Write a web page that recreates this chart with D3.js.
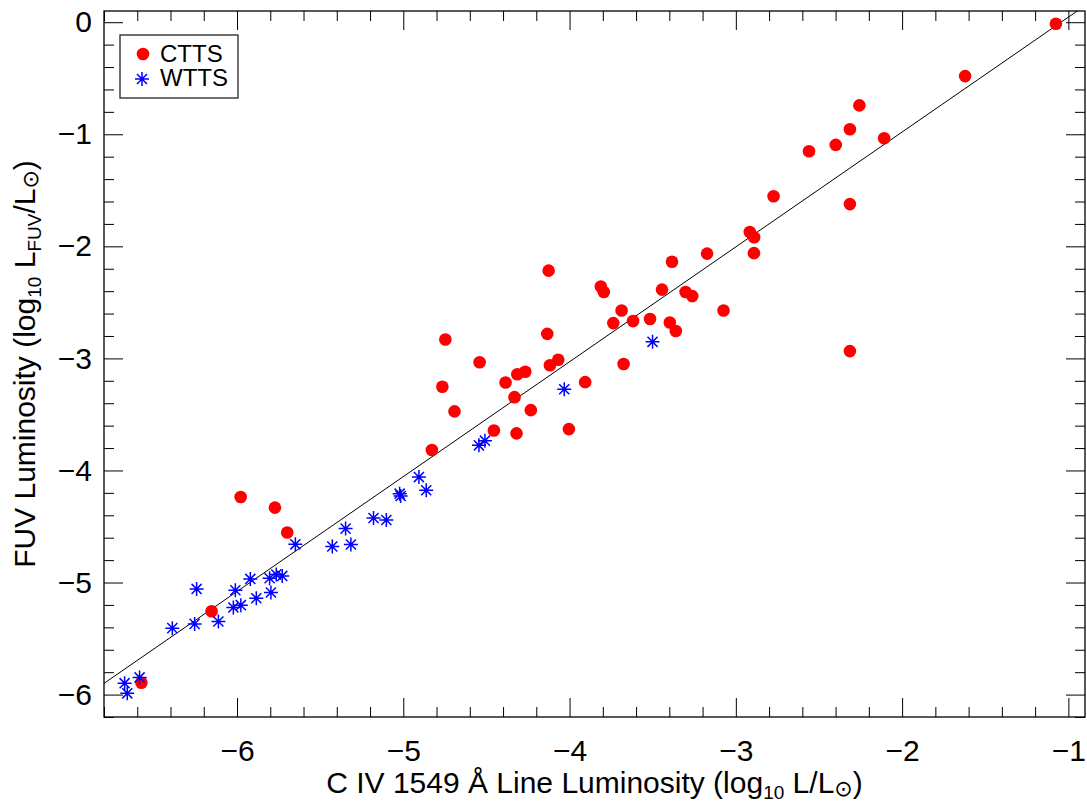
<!DOCTYPE html>
<meta charset="utf-8">
<script src="https://d3js.org/d3.v7.min.js"></script>
<html>
<body style="margin:0; background:#fff;">
<div id="chart"></div>
<script>
// CTTS (classical T Tauri) points
var cttsX = [-6.575, -6.153, -5.978, -5.772, -5.698, -4.828, -4.692, -4.765, -4.747, -4.541,
             -4.455, -4.385, -4.331, -4.314, -4.266, -4.319, -4.233, -4.126, -4.134, -4.118,
             -4.068, -4.004, -3.906, -3.812, -3.794, -3.687, -3.737, -3.618, -3.675, -3.516,
             -3.444, -3.397, -3.361, -3.384, -3.302, -3.262, -3.173, -3.074, -2.916, -2.890,
             -2.891, -2.773, -2.560, -2.399, -2.314, -2.257, -2.314, -2.314, -2.108, -1.621,
             -1.075];
var cttsY = [-5.895, -5.256, -4.237, -4.332, -4.554, -3.818, -3.473, -3.253, -2.832, -3.034,
             -3.643, -3.215, -3.346, -3.141, -3.119, -3.669, -3.462, -2.217, -2.781, -3.061,
             -3.012, -3.631, -3.212, -2.359, -2.408, -2.573, -2.685, -2.667, -3.050, -2.649,
             -2.386, -2.680, -2.756, -2.138, -2.408, -2.444, -2.065, -2.573, -1.872, -1.919,
             -2.061, -1.553, -1.152, -1.095, -0.955, -0.742, -1.623, -2.935, -1.036, -0.481,
             -0.014];

// WTTS (weak-lined T Tauri) points
var wttsX = [-6.676, -6.660, -6.586, -6.389, -6.255, -6.243, -6.112, -6.022, -6.010, -5.977,
             -5.920, -5.884, -5.796, -5.804, -5.764, -5.728, -5.649, -5.427, -5.347, -5.315,
             -5.179, -5.102, -5.022, -5.016, -4.906, -4.862, -4.545, -4.509, -4.032, -3.501];
var wttsY = [-5.898, -5.989, -5.847, -5.407, -5.369, -5.057, -5.348, -5.223, -5.069, -5.202,
             -4.968, -5.140, -5.089, -4.962, -4.929, -4.941, -4.659, -4.679, -4.519, -4.661,
             -4.424, -4.442, -4.207, -4.228, -4.059, -4.177, -3.776, -3.734, -3.275, -2.852];

// linear fit drawn through both samples
var fitSlope = 1.025, fitIntercept = 1.07;

var xTicks = [-6, -5, -4, -3, -2, -1];
var yTicks = [0, -1, -2, -3, -4, -5, -6];
var seriesNames = ["CTTS", "WTTS"];

var margin = {top: 11, right: 2, bottom: 87, left: 104},
    width = 1087 - margin.left - margin.right,
    height = 804 - margin.top - margin.bottom;

var font = "'Liberation Sans', Arial, Helvetica, sans-serif";

var svg = d3.select("#chart")
  .append("svg")
    .attr("width", 1087)
    .attr("height", 804)
    .style("font-family", font)
  .append("g")
    .attr("transform", "translate(" + margin.left + "," + margin.top + ")");

var x = d3.scaleLinear().domain([-6.8, -0.9]).range([0, width]);
var y = d3.scaleLinear().domain([-6.2, 0.1]).range([height, 0]);

var xMinor = d3.range(-6.8, -0.85, 0.2).map(function(d) { return +d.toFixed(1); })
  .filter(function(d) { return xTicks.indexOf(d) < 0; });
var yMinor = d3.range(-6.2, 0.15, 0.2).map(function(d) { return +d.toFixed(1); })
  .filter(function(d) { return yTicks.indexOf(d) < 0; });

var fmt = d3.format("d");

function styleAxis(g) {
  g.select(".domain").remove();
  g.selectAll("line").attr("stroke", "#000").attr("stroke-width", 1);
  g.selectAll("text").attr("fill", "#000").style("font-size", "30px").style("font-family", font);
}

// bottom axis with labels
svg.append("g")
    .attr("transform", "translate(0," + height + ")")
    .call(d3.axisBottom(x).tickValues(xTicks).tickSize(-19).tickPadding(23).tickFormat(fmt))
    .call(styleAxis);
svg.append("g")
    .attr("transform", "translate(0," + height + ")")
    .call(d3.axisBottom(x).tickValues(xMinor).tickSize(-10).tickFormat(""))
    .call(styleAxis);
// top axis, ticks only
svg.append("g")
    .call(d3.axisTop(x).tickValues(xTicks).tickSize(-19).tickFormat(""))
    .call(styleAxis);
svg.append("g")
    .call(d3.axisTop(x).tickValues(xMinor).tickSize(-10).tickFormat(""))
    .call(styleAxis);
// left axis with labels
svg.append("g")
    .call(d3.axisLeft(y).tickValues(yTicks).tickSize(-19).tickPadding(12).tickFormat(fmt))
    .call(styleAxis);
svg.append("g")
    .call(d3.axisLeft(y).tickValues(yMinor).tickSize(-10).tickFormat(""))
    .call(styleAxis);
// right axis, ticks only
svg.append("g")
    .attr("transform", "translate(" + width + ",0)")
    .call(d3.axisRight(y).tickValues(yTicks).tickSize(-19).tickFormat(""))
    .call(styleAxis);
svg.append("g")
    .attr("transform", "translate(" + width + ",0)")
    .call(d3.axisRight(y).tickValues(yMinor).tickSize(-10).tickFormat(""))
    .call(styleAxis);

// frame
svg.append("rect")
    .attr("width", width)
    .attr("height", height)
    .attr("fill", "none")
    .attr("stroke", "#000")
    .attr("stroke-width", 1.3);

svg.append("clipPath").attr("id", "clip")
  .append("rect").attr("width", width).attr("height", height);

// fit line
var xd = x.domain();
svg.append("line")
    .attr("clip-path", "url(#clip)")
    .attr("x1", x(xd[0])).attr("y1", y(fitSlope * xd[0] + fitIntercept))
    .attr("x2", x(xd[1])).attr("y2", y(fitSlope * xd[1] + fitIntercept))
    .attr("stroke", "#000")
    .attr("stroke-width", 1);

// 8-armed asterisk like IDL psym=2
function starPath(r) {
  var q = r * 0.72;
  return "M" + (-r) + ",0L" + r + ",0M0," + (-r) + "L0," + r +
         "M" + (-q) + "," + (-q) + "L" + q + "," + q +
         "M" + (-q) + "," + q + "L" + q + "," + (-q);
}

var ctts = cttsX.map(function(d, i) { return {x: d, y: cttsY[i]}; });
var wtts = wttsX.map(function(d, i) { return {x: d, y: wttsY[i]}; });

svg.append("g").selectAll("circle")
  .data(ctts)
  .enter().append("circle")
    .attr("cx", function(d) { return x(d.x); })
    .attr("cy", function(d) { return y(d.y); })
    .attr("r", 6.3)
    .attr("fill", "#ff0000");

svg.append("g").selectAll("path")
  .data(wtts)
  .enter().append("path")
    .attr("transform", function(d) { return "translate(" + x(d.x) + "," + y(d.y) + ")"; })
    .attr("d", starPath(7))
    .attr("fill", "none")
    .attr("stroke", "#0000ff")
    .attr("stroke-width", 1.5);

// legend
var legend = svg.append("g").attr("transform", "translate(16,24)");
legend.append("rect")
    .attr("width", 118)
    .attr("height", 63)
    .attr("fill", "#fff")
    .attr("stroke", "#222")
    .attr("stroke-width", 1.3);
legend.append("circle").attr("cx", 23).attr("cy", 19).attr("r", 6.3).attr("fill", "#ff0000");
legend.append("path")
    .attr("transform", "translate(22,44)")
    .attr("d", starPath(7))
    .attr("fill", "none")
    .attr("stroke", "#0000ff")
    .attr("stroke-width", 1.5);
legend.selectAll("text.lab")
  .data(seriesNames)
  .enter().append("text")
    .attr("class", "lab")
    .attr("x", 40)
    .attr("y", function(d, i) { return 26.5 + i * 24.5; })
    .style("font-size", "24px")
    .text(function(d) { return d; });

// axis titles
var xt = svg.append("text")
    .attr("x", width / 2)
    .attr("y", 793 - margin.top)
    .attr("text-anchor", "middle")
    .style("font-size", "30px");
xt.append("tspan").text("C IV 1549 Å Line Luminosity (log");
xt.append("tspan").attr("dy", 6).style("font-size", "19px").text("10");
xt.append("tspan").attr("dy", -6).text(" L/L");
xt.append("tspan").attr("dy", 3).style("font-size", "22px").style("font-family", "'DejaVu Sans'").text("⊙");
xt.append("tspan").attr("dy", -3).text(")");

var yt = svg.append("text")
    .attr("transform", "translate(" + (35 - margin.left) + "," + (height / 2) + ") rotate(-90)")
    .attr("text-anchor", "middle")
    .style("font-size", "30px");
yt.append("tspan").text("FUV Luminosity (log");
yt.append("tspan").attr("dy", 6).style("font-size", "19px").text("10");
yt.append("tspan").attr("dy", -6).text(" L");
yt.append("tspan").attr("dy", 6).style("font-size", "19px").text("FUV");
yt.append("tspan").attr("dy", -6).text("/L");
yt.append("tspan").attr("dy", 3).style("font-size", "22px").style("font-family", "'DejaVu Sans'").text("⊙");
yt.append("tspan").attr("dy", -3).text(")");
</script>
</body>
</html>
